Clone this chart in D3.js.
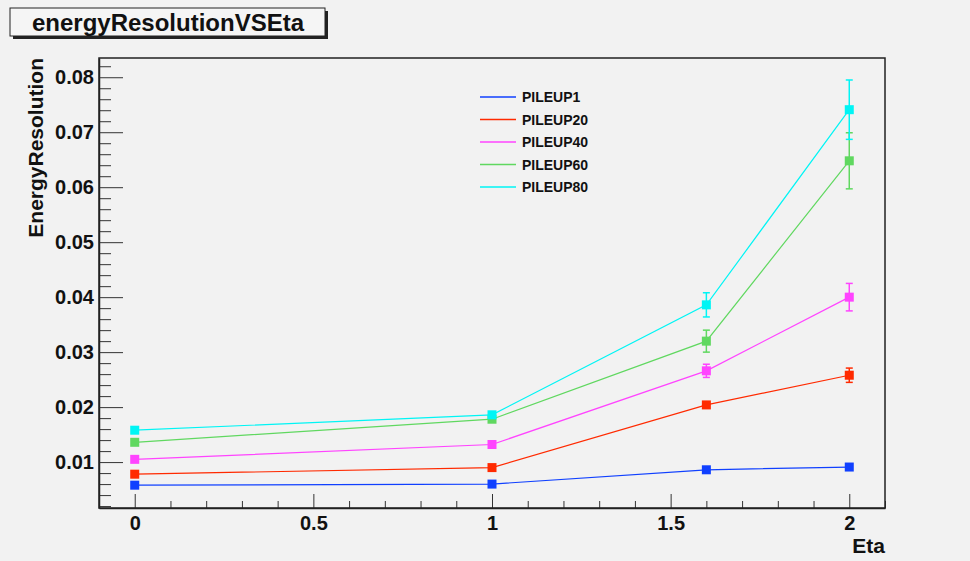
<!DOCTYPE html>
<html>
<head>
<meta charset="utf-8">
<script src="https://cdn.jsdelivr.net/npm/d3@7"></script>
<style>
  body { margin: 0; background: #f2f2f2; }
  svg { display: block; font-family: "Liberation Sans", Arial, sans-serif; font-weight: bold; }
  .axis path { stroke: #222; stroke-width: 1.5; }
  .axis line { stroke: #333; }
  .axis text { font-size: 20px; fill: #111; font-family: "Liberation Sans", Arial, sans-serif; }
</style>
</head>
<body>
<div id="graph-container"></div>
<script>

///// Data

let eta = [0, 1, 1.6, 2];

let seriesNames = ["PILEUP1", "PILEUP20", "PILEUP40", "PILEUP60", "PILEUP80"];
let seriesColors = ["#1040ff", "#ff2a00", "#ff44ff", "#60d860", "#00f5f5"];

let pileup1 = [0.0058, 0.0060, 0.0086, 0.0091];
let pileup20 = [0.0078, 0.0090, 0.0204, 0.0258];
let pileup40 = [0.0105, 0.0132, 0.0266, 0.0400];
let pileup60 = [0.0136, 0.0178, 0.0320, 0.0648];
let pileup80 = [0.0158, 0.0186, 0.0386, 0.0741];

let err1 = [0.0001, 0.0001, 0.0002, 0.0003];
let err20 = [0.0001, 0.0002, 0.0004, 0.0013];
let err40 = [0.0002, 0.0003, 0.0012, 0.0025];
let err60 = [0.0003, 0.0003, 0.0020, 0.0051];
let err80 = [0.0003, 0.0004, 0.0022, 0.0054];

let xMajorTicks = [0, 0.5, 1, 1.5, 2];
let yMajorTicks = [0.01, 0.02, 0.03, 0.04, 0.05, 0.06, 0.07, 0.08];

let values = [pileup1, pileup20, pileup40, pileup60, pileup80];
let errors = [err1, err20, err40, err60, err80];

///// Layout

let W = 970, H = 561;
let frame = { left: 99, right: 885, top: 58, bottom: 508 };

let x = d3.scaleLinear().domain([-0.1, 2.1]).range([frame.left, frame.right]);
let y = d3.scaleLinear().domain([0.00165, 0.0835]).range([frame.bottom, frame.top]);

let svg = d3.select("#graph-container")
    .append("svg")
    .attr("width", W)
    .attr("height", H);

svg.append("rect")
    .attr("width", W)
    .attr("height", H)
    .attr("fill", "#f2f2f2");

// minor tick positions
let xMinor = d3.range(-1, 22).filter(i => i % 5 !== 0).map(i => i / 10);
let yMinor = d3.range(1, 42).filter(i => i % 5 !== 0).map(i => i * 0.002);

///// Axes

// x minor
svg.append("g")
    .attr("class", "axis")
    .attr("transform", "translate(0," + frame.bottom + ")")
    .call(d3.axisBottom(x).tickValues(xMinor).tickSize(-7).tickFormat(""))
    .select(".domain").remove();

// x major
svg.append("g")
    .attr("class", "axis x")
    .attr("transform", "translate(0," + frame.bottom + ")")
    .call(d3.axisBottom(x).tickValues(xMajorTicks).tickSize(-14).tickPadding(8).tickSizeOuter(0)
        .tickFormat(d => d3.format("")(d)));

// y minor
svg.append("g")
    .attr("class", "axis")
    .attr("transform", "translate(" + frame.left + ",0)")
    .call(d3.axisLeft(y).tickValues(yMinor).tickSize(-12).tickFormat(""))
    .select(".domain").remove();

// y major
svg.append("g")
    .attr("class", "axis y")
    .attr("transform", "translate(" + frame.left + ",0)")
    .call(d3.axisLeft(y).tickValues(yMajorTicks).tickSize(-24).tickPadding(5).tickSizeOuter(0)
        .tickFormat(d3.format(".2f")));

// frame
svg.append("rect")
    .attr("x", frame.left)
    .attr("y", frame.top)
    .attr("width", frame.right - frame.left)
    .attr("height", frame.bottom - frame.top)
    .attr("fill", "none")
    .attr("stroke", "#222")
    .attr("stroke-width", 1.5);

// axis titles
svg.append("text")
    .attr("x", frame.right)
    .attr("y", 553)
    .attr("text-anchor", "end")
    .style("font-size", "21px")
    .attr("fill", "#111")
    .text("Eta");

svg.append("text")
    .attr("transform", "translate(43," + frame.top + ") rotate(-90)")
    .attr("text-anchor", "end")
    .style("font-size", "21px")
    .attr("fill", "#111")
    .text("EnergyResolution");

///// Series

let line = d3.line()
    .x((d, i) => x(eta[i]))
    .y(d => y(d));

values.forEach(function(vals, s) {
    let c = seriesColors[s];
    let g = svg.append("g").attr("class", "series s" + s);

    g.append("path")
        .attr("d", line(vals))
        .attr("fill", "none")
        .attr("stroke", c)
        .attr("stroke-width", 1.2);

    // error bars
    vals.forEach(function(v, i) {
        let e = errors[s][i],
            cx = x(eta[i]),
            y0 = y(v - e),
            y1 = y(v + e);
        g.append("line")
            .attr("x1", cx).attr("x2", cx)
            .attr("y1", y0).attr("y2", y1)
            .attr("stroke", c).attr("stroke-width", 1.5);
        [y0, y1].forEach(function(yy) {
            g.append("line")
                .attr("x1", cx - 3.5).attr("x2", cx + 3.5)
                .attr("y1", yy).attr("y2", yy)
                .attr("stroke", c).attr("stroke-width", 1.5);
        });
    });

    // square markers
    g.selectAll("rect.marker")
        .data(vals)
        .enter()
        .append("rect")
        .attr("class", "marker")
        .attr("x", (d, i) => x(eta[i]) - 4.5)
        .attr("y", d => y(d) - 4.5)
        .attr("width", 9)
        .attr("height", 9)
        .attr("fill", c);
});

///// Legend

let legend = svg.append("g").attr("class", "legend");

seriesNames.forEach(function(name, i) {
    let ly = 97 + i * 22.5;
    legend.append("line")
        .attr("x1", 480).attr("x2", 516)
        .attr("y1", ly).attr("y2", ly)
        .attr("stroke", seriesColors[i])
        .attr("stroke-width", 1.5);
    legend.append("text")
        .attr("x", 522)
        .attr("y", ly)
        .attr("dy", "0.36em")
        .style("font-size", "14px")
        .attr("fill", "#111")
        .text(name);
});

///// Title box

svg.append("rect")
    .attr("x", 13).attr("y", 11)
    .attr("width", 315).attr("height", 28)
    .attr("fill", "#222");

svg.append("rect")
    .attr("x", 10).attr("y", 8)
    .attr("width", 315).attr("height", 28)
    .attr("fill", "#f5f5f5")
    .attr("stroke", "#222")
    .attr("stroke-width", 1);

svg.append("text")
    .attr("x", 168)
    .attr("y", 31)
    .attr("text-anchor", "middle")
    .style("font-size", "24px")
    .attr("fill", "#111")
    .text("energyResolutionVSEta");

</script>
</body>
</html>
